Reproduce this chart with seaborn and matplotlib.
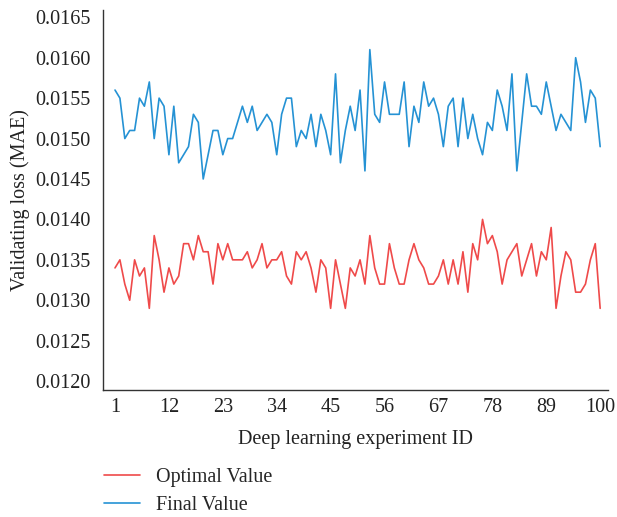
import numpy as np
import pandas as pd
import matplotlib
matplotlib.use("Agg")
import matplotlib.pyplot as plt
import seaborn as sns

# Experiment IDs and validating loss values
EXPERIMENT_ID = list(range(1, 101))

OPTIMAL_VALUE = [
    0.0134, 0.0135, 0.0132, 0.0130, 0.0135, 0.0133, 0.0134, 0.0129, 0.0138, 0.0135,
    0.0131, 0.0134, 0.0132, 0.0133, 0.0137, 0.0137, 0.0135, 0.0138, 0.0136, 0.0136,
    0.0132, 0.0137, 0.0135, 0.0137, 0.0135, 0.0135, 0.0135, 0.0136, 0.0134, 0.0135,
    0.0137, 0.0134, 0.0135, 0.0135, 0.0136, 0.0133, 0.0132, 0.0136, 0.0135, 0.0136,
    0.0134, 0.0131, 0.0135, 0.0134, 0.0129, 0.0135, 0.0132, 0.0129, 0.0134, 0.0133,
    0.0135, 0.0132, 0.0138, 0.0134, 0.0132, 0.0132, 0.0137, 0.0134, 0.0132, 0.0132,
    0.0135, 0.0137, 0.0135, 0.0134, 0.0132, 0.0132, 0.0133, 0.0135, 0.0132, 0.0135,
    0.0132, 0.0136, 0.0131, 0.0137, 0.0135, 0.0140, 0.0137, 0.0138, 0.0136, 0.0132,
    0.0135, 0.0136, 0.0137, 0.0133, 0.0135, 0.0137, 0.0133, 0.0136, 0.0135, 0.0139,
    0.0129, 0.0133, 0.0136, 0.0135, 0.0131, 0.0131, 0.0132, 0.0135, 0.0137, 0.0129,
]

FINAL_VALUE = [
    0.0156, 0.0155, 0.0150, 0.0151, 0.0151, 0.0155, 0.0154, 0.0157, 0.0150, 0.0155,
    0.0154, 0.0148, 0.0154, 0.0147, 0.0148, 0.0149, 0.0153, 0.0152, 0.0145, 0.0148,
    0.0151, 0.0151, 0.0148, 0.0150, 0.0150, 0.0152, 0.0154, 0.0152, 0.0154, 0.0151,
    0.0152, 0.0153, 0.0152, 0.0148, 0.0153, 0.0155, 0.0155, 0.0149, 0.0151, 0.0150,
    0.0153, 0.0149, 0.0153, 0.0151, 0.0148, 0.0158, 0.0147, 0.0151, 0.0154, 0.0151,
    0.0156, 0.0146, 0.0161, 0.0153, 0.0152, 0.0157, 0.0153, 0.0153, 0.0153, 0.0157,
    0.0149, 0.0154, 0.0152, 0.0157, 0.0154, 0.0155, 0.0153, 0.0149, 0.0154, 0.0155,
    0.0149, 0.0155, 0.0150, 0.0153, 0.0150, 0.0148, 0.0152, 0.0151, 0.0156, 0.0154,
    0.0151, 0.0158, 0.0146, 0.0152, 0.0158, 0.0154, 0.0154, 0.0153, 0.0157, 0.0154,
    0.0151, 0.0153, 0.0152, 0.0151, 0.0160, 0.0157, 0.0152, 0.0156, 0.0155, 0.0149,
]

SERIES_NAMES = ["Optimal Value", "Final Value"]
SERIES_COLORS = ["#ef4a4a", "#2592d4"]
X_TICKS = [1, 12, 23, 34, 45, 56, 67, 78, 89, 100]
Y_TICKS = [0.0120, 0.0125, 0.0130, 0.0135, 0.0140, 0.0145, 0.0150, 0.0155, 0.0160, 0.0165]

# long-form table for seaborn
df = pd.concat([
    pd.DataFrame({"id": EXPERIMENT_ID, "loss": OPTIMAL_VALUE, "series": SERIES_NAMES[0]}),
    pd.DataFrame({"id": EXPERIMENT_ID, "loss": FINAL_VALUE, "series": SERIES_NAMES[1]}),
], ignore_index=True)

sns.set_style("white")
plt.rcParams["font.family"] = ["Liberation Serif", "DejaVu Serif"]

fig = plt.figure(figsize=(6.17, 5.17), dpi=100)
ax = fig.add_axes([103 / 617, 1 - 390 / 517, (608 - 103) / 617, (390 - 10) / 517])

sns.lineplot(
    data=df, x="id", y="loss", hue="series",
    hue_order=SERIES_NAMES, palette=SERIES_COLORS,
    linewidth=1.2, ax=ax, legend=True,
)

ax.set_xlim(-1.45, 101.6)
ax.set_ylim(0.01189, 0.01659)
ax.set_xticks(X_TICKS)
ax.set_yticks(Y_TICKS)
ax.set_yticklabels([f"{v:.4f}" for v in Y_TICKS])
ax.tick_params(axis="both", length=0, labelsize=14.5, colors="#222222")
ax.tick_params(axis="y", pad=9)
ax.tick_params(axis="x", pad=6)

for side in ["top", "right"]:
    ax.spines[side].set_visible(False)
for side in ["left", "bottom"]:
    ax.spines[side].set_color("#333333")
    ax.spines[side].set_linewidth(1.0)

ax.set_xlabel("Deep learning experiment ID", fontsize=14.5, color="#222222", labelpad=9)
ax.set_ylabel("Validating loss (MAE)", fontsize=14.5, color="#222222", labelpad=4)

# legend sits under the axes, no frame
handles, labels = ax.get_legend_handles_labels()
ax.get_legend().remove()
fig.legend(
    handles, labels, loc="upper left", bbox_to_anchor=(96 / 617, 1 - 460 / 517),
    frameon=False, fontsize=14.5, handlelength=1.8, handletextpad=0.8,
    labelspacing=0.45, borderaxespad=0,
)

fig.savefig("out.png", dpi=100)
plt.close(fig)
